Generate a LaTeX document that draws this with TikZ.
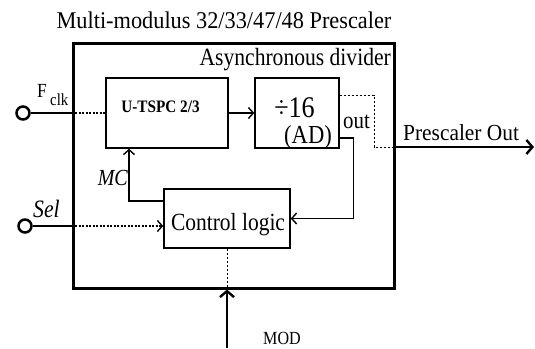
\documentclass[tikz,border=0pt]{standalone}
\usepackage{fontspec}
\setmainfont{Liberation Serif}
\newfontfamily\cf{Liberation Serif}[FakeStretch=0.87]
\newfontfamily\tf{Liberation Serif}[FakeStretch=0.93]
\usetikzlibrary{arrows.meta}
\newcommand{\fsz}[1]{\fontsize{#1pt}{#1pt}\selectfont}
\tikzset{
  x=1pt, y=-1pt,
  outerbox/.style={draw, line width=3pt, inner sep=0pt},
  blockbox/.style={draw, line width=1.4pt, inner sep=0pt},
  txt/.style={inner sep=0pt, anchor=base},
  thinarrow/.style={line width=1.4pt, -{Straight Barb[length=5pt,width=11pt,line width=1.4pt]}},
  thickarrow/.style={line width=2.8pt, -{Straight Barb[length=6pt,width=14pt,line width=2.4pt]}},
  thickline/.style={line width=2.8pt},
  dotline/.style={line width=1.5pt, dash pattern=on 2pt off 1.5pt},
  dashline/.style={line width=1pt, dash pattern=on 2.5pt off 1.5pt},
  port/.style={draw, circle, line width=2.5pt, minimum size=13pt, inner sep=0pt},
}
\begin{document}
\begin{tikzpicture}
\useasboundingbox (0,0) rectangle (535,348);
% boxes
\node[outerbox, minimum width=321pt, minimum height=245pt] (outer) at (233.5,165.5) {};
\node[blockbox, minimum width=122pt, minimum height=70pt] (tspc) at (167,113) {};
\node[blockbox, minimum width=84pt, minimum height=70pt] (div) at (297,113) {};
\node[blockbox, minimum width=126pt, minimum height=59pt] (ctrl) at (227,218.5) {};
\node[port] (fclkc) at (23,113) {};
\node[port] (selc) at (25,226) {};
% texts
\node[txt] (title) at (224,28) {\tf\fsz{24}Multi-modulus 32/33/47/48 Prescaler};
\node[txt, anchor=base east] (async) at (391,65) {\cf\fsz{24.8}Asynchronous divider};
\node[txt] (tspctxt) at (160.5,112.5) {\cf\fsz{17.5}\bfseries U-TSPC 2/3};
\node[txt] (divtxt) at (294.5,117) {\cf\fsz{30}÷16};
\node[txt] (adtxt) at (308,143) {\cf\fsz{26}(AD)};
\node[txt, anchor=base west] (outtxt) at (343,128) {\cf\fsz{24}out};
\node[txt, anchor=base west] (prtxt) at (403,140) {\tf\fsz{23}Prescaler Out};
\node[txt] (ctrltxt) at (228,230) {\cf\fsz{24.7}Control logic};
\node[txt, anchor=base east] (mctxt) at (128,185) {\cf\fsz{23}\itshape MC};
\node[txt, anchor=base west] (seltxt) at (33,217) {\cf\fsz{25}\itshape Sel};
\node[txt, anchor=base west] (ftxt) at (37,97) {\cf\fsz{20}F};
\node[txt, anchor=base west] (clktxt) at (50,105) {\cf\fsz{17}clk};
\node[txt, anchor=base west] (modtxt) at (263,344) {\cf\fsz{18.5}MOD};
% coordinates
\coordinate (mcstart) at (164,201);
\coordinate (mccorner) at (129,201);
\coordinate (oute) at (374,147);
\coordinate (outj) at (394,147);
\coordinate (prend) at (534,147);
\coordinate (modin) at (227,348);
% connectors
\draw[thickline] (fclkc) -- (fclkc -| outer.west);
\draw[dotline] (fclkc -| outer.west) -- (tspc.west);
\draw[thinarrow] (tspc.east) -- (div.west);
\draw[thinarrow] (mcstart) -- (mccorner) -- (mccorner |- tspc.south);
\draw[thinarrow] ([yshift=-25pt]div.east) -| ([xshift=63pt]ctrl.east) -- (ctrl.east);
\draw[dashline] ([yshift=18pt]div.east) -| (oute) -- (outj);
\draw[thickarrow] (outj) -- (prend);
\draw[thickline] (selc) -- (selc -| outer.west);
\draw[dotline, -{Straight Barb[length=5pt,width=11pt,line width=1.4pt]}] (selc -| outer.west) -- (ctrl.west |- selc);
\draw[dashline] (ctrl.south) -- (ctrl.south |- outer.south);
\draw[thickarrow] (modin) -- (ctrl.south |- outer.south);
\end{tikzpicture}
\end{document}
